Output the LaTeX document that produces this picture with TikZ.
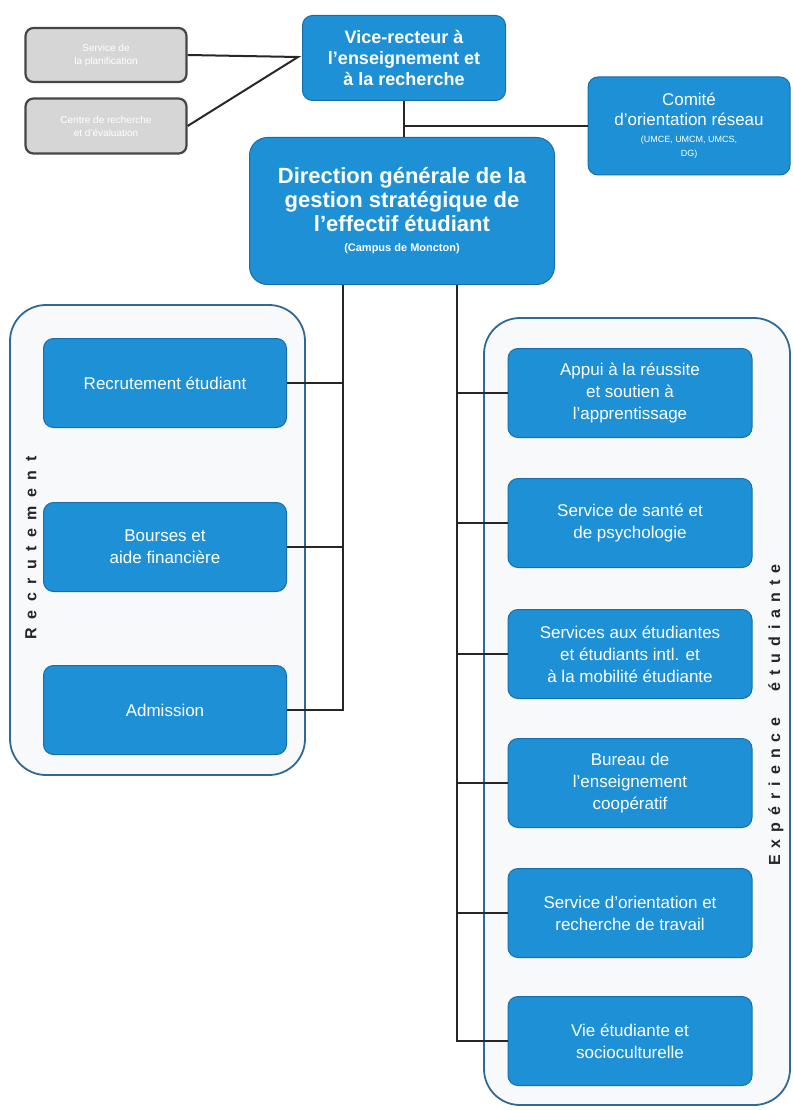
\documentclass[tikz,border=0pt]{standalone}
\usepackage{fontspec}
\setmainfont{Liberation Sans}
\usetikzlibrary{positioning}

\definecolor{boxblue}{RGB}{30,144,214}
\definecolor{boxedge}{RGB}{22,110,170}
\definecolor{groupedge}{RGB}{48,104,150}
\definecolor{groupfill}{RGB}{248,249,251}
\definecolor{grayfill}{RGB}{214,214,214}
\definecolor{grayedge}{RGB}{70,70,70}

\tikzset{
  unit/.style={draw=boxedge, fill=boxblue, text=white, rounded corners=10pt, line width=1pt,
    align=center, inner sep=2pt, font=\fontsize{17}{22}\selectfont,
    minimum width=243pt, minimum height=89pt},
  head/.style={unit, font=\bfseries\fontsize{18}{21}\selectfont},
  staff/.style={draw=grayedge, fill=grayfill, text=white, rounded corners=8pt, line width=2.2pt,
    align=center, font=\fontsize{10}{13}\selectfont, minimum width=161pt, minimum height=54pt},
  group/.style={draw=groupedge, fill=groupfill, line width=1.8pt, rounded corners=36pt},
  grouplabel/.style={font=\bfseries\fontsize{16}{16}\selectfont, text=black!85, rotate=90},
  link/.style={draw=black!85, line width=2pt},
}

\begin{document}
\begin{tikzpicture}[x=1pt, y=-1pt, on grid]
\useasboundingbox (0,0) rectangle (792,1110);

% regroupements
\draw[group] (10,305) rectangle (305,775);
\draw[group] (484,318) rectangle (790,1105);
\node[grouplabel] (lblrec) at (31,548) {\spaceskip=8.5pt R e c r u t e m e n t};
\node[grouplabel] (lblexp) at (776,715) {\spaceskip=7pt E x p é r i e n c e \hspace{12pt} é t u d i a n t e};

% direction
\node[head, minimum width=203pt, minimum height=85pt] (vr) at (404,58) {Vice-recteur à\\l'enseignement et\\à la recherche};
\node[staff] (svc) at (106,55) {Service de\\la planification};
\node[staff, minimum height=55pt] (ctr) at (106,126) {Centre de recherche\\et d'évaluation};
\node[unit, minimum width=202pt, minimum height=98pt, font=\fontsize{17}{20}\selectfont] (cor) at (689,126)
  {Comité\\d'orientation réseau\\[-3pt]{\fontsize{9}{10}\selectfont (UMCE, UMCM, UMCS,}\\[-6pt]{\fontsize{9}{10}\selectfont DG)}};
\node[unit, rounded corners=18pt, minimum width=305pt, minimum height=147pt,
  font=\bfseries\fontsize{22}{24}\selectfont] (dg) at (402,211)
  {Direction générale de la\\gestion stratégique de\\l'effectif étudiant\\[-4pt]{\fontsize{11}{12}\selectfont (Campus de Moncton)}};

% recrutement
\node[unit] (rec) at (165,383) {Recrutement étudiant};
\node[unit, below=164pt of rec] (bour) {Bourses et\\aide financière};
\node[unit, below=163pt of bour] (adm) {Admission};

% experience etudiante
\node[unit, minimum width=244pt] (app) at (630,393) {Appui à la réussite\\et soutien à\\l'apprentissage};
\node[unit, minimum width=244pt, below=130pt of app] (sante) {Service de santé et\\de psychologie};
\node[unit, minimum width=244pt, below=131pt of sante] (intl) {Services aux étudiantes\\et étudiants intl. et\\à la mobilité étudiante};
\node[unit, minimum width=244pt, below=129pt of intl] (coop) {Bureau de\\l'enseignement\\coopératif};
\node[unit, minimum width=244pt, below=130pt of coop] (orient) {Service d'orientation et\\recherche de travail};
\node[unit, minimum width=244pt, below=128pt of orient] (vie) {Vie étudiante et\\socioculturelle};

% liens
\coordinate (lt) at (343,0);
\coordinate (rt) at (457,0);
\coordinate (vrj) at (298,57);
\path[link] (svc.east) -- (vrj) -- (ctr.east);
\path[link] (vr.south) -- (vr.south |- dg.north);
\path[link] (vr.south |- cor.west) -- (cor.west);
\path[link] (lt |- dg.south) |- (adm.east);
\path[link] (rec.east) -- (rec.east -| lt);
\path[link] (bour.east) -- (bour.east -| lt);
\path[link] (rt |- dg.south) |- (vie.west);
\foreach \n in {app,sante,intl,coop,orient}
  \path[link] (\n.west) -- (\n.west -| rt);
\end{tikzpicture}
\end{document}
